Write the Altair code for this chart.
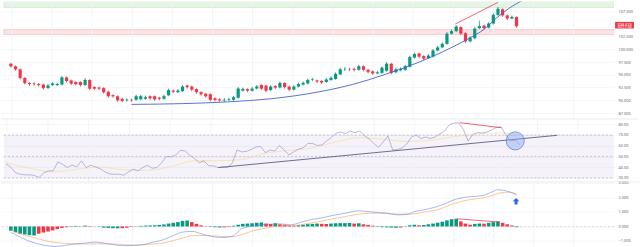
import altair as alt
import pandas as pd

# ---------------- data ----------------
opens = [97.2, 96.7, 96.1, 94.4, 93.4, 93.3, 93.2, 93.1, 92.4, 93.0,
         93.0, 93.1, 94.5, 93.9, 93.6, 93.6, 93.0, 94.0, 92.6, 92.5,
         92.4, 91.7, 91.0, 90.8, 90.3, 90.0, 90.1, 90.1, 90.2, 90.3,
         90.8, 90.8, 90.5, 90.3, 91.0, 91.9, 91.6, 91.8, 92.9, 92.7,
         92.2, 91.6, 91.3, 91.2, 90.4, 90.2, 90.0, 90.1, 90.1, 90.5,
         91.9, 92.2, 91.9, 92.3, 93.0, 92.9, 92.0, 92.8, 92.5, 93.4,
         92.7, 92.1, 92.7, 93.1, 93.3, 94.0, 93.9, 93.8, 93.6, 94.0,
         94.2, 95.1, 96.1, 96.1, 96.2, 96.0, 96.7, 96.0, 95.7, 95.3,
         95.4, 95.8, 97.2, 95.5, 95.9, 96.0, 96.6, 98.4, 99.2, 98.7,
         98.3, 98.6, 99.8, 100.4, 101.1, 103.1, 103.6, 104.4, 103.2, 101.6,
         102.2, 104.2, 104.7, 104.3, 105.1, 106.8, 107.9, 106.7, 106.1, 106.4]
closes = [96.7, 96.1, 94.4, 93.4, 93.2, 93.2, 93.0, 92.4, 92.9, 93.3,
          93.2, 94.5, 93.8, 93.3, 93.2, 93.0, 94.0, 92.3, 92.3, 92.3,
          91.6, 90.8, 90.8, 90.0, 89.9, 90.1, 90.0, 90.8, 90.8, 90.6,
          90.4, 90.2, 90.3, 90.8, 92.0, 91.7, 91.9, 92.7, 92.6, 92.1,
          91.6, 91.2, 90.8, 90.1, 90.1, 90.0, 90.1, 90.2, 90.6, 92.3,
          92.2, 91.9, 92.3, 92.7, 92.3, 91.9, 92.7, 92.5, 93.4, 92.6,
          92.1, 92.7, 93.2, 93.4, 94.0, 94.1, 93.7, 93.5, 94.1, 94.4,
          95.2, 96.1, 96.15, 96.05, 96.0, 96.7, 96.0, 95.6, 95.3, 95.5,
          96.4, 97.2, 95.4, 96.1, 96.2, 96.7, 98.5, 99.1, 98.6, 98.2,
          98.8, 99.8, 100.4, 101.1, 103.1, 103.6, 104.5, 103.1, 101.6, 102.3,
          104.1, 104.6, 104.2, 105.1, 106.8, 108.0, 106.7, 106.1, 106.4, 104.575]
highs = [97.4, 96.9, 96.3, 94.6, 93.6, 93.5, 93.4, 93.3, 93.1, 93.5,
         93.4, 94.7, 94.7, 94.1, 93.8, 93.8, 94.3, 94.2, 92.8, 92.7,
         92.6, 91.9, 91.2, 91.0, 90.5, 90.3, 90.3, 91.0, 91.0, 90.9,
         91.0, 91.0, 90.7, 91.0, 92.2, 92.1, 92.1, 92.9, 93.1, 92.9,
         92.4, 91.8, 91.5, 91.4, 90.6, 90.4, 90.4, 90.4, 90.8, 92.5,
         92.4, 92.4, 92.5, 92.9, 93.2, 93.1, 92.9, 93.0, 93.6, 93.6,
         92.9, 92.9, 93.4, 93.6, 94.2, 94.3, 94.1, 94.0, 94.3, 94.6,
         95.4, 96.3, 96.5, 96.4, 96.4, 96.9, 96.9, 96.2, 95.9, 95.7,
         96.6, 97.4, 97.4, 96.3, 96.4, 96.9, 98.7, 99.3, 99.4, 98.9,
         99.0, 100.0, 100.6, 101.3, 103.3, 103.8, 104.7, 104.6, 103.4, 102.5,
         104.3, 105.7, 104.9, 105.3, 107.0, 108.3, 108.1, 106.9, 106.6, 106.5]
lows = [96.5, 95.9, 94.2, 93.2, 92.9, 93.0, 92.8, 92.2, 92.2, 92.8,
        92.8, 92.9, 93.6, 93.1, 93.0, 92.8, 92.8, 92.1, 92.1, 92.1,
        91.4, 90.6, 90.6, 89.8, 89.7, 89.8, 89.8, 89.9, 90.0, 90.1,
        90.2, 90.0, 90.1, 90.1, 90.8, 91.5, 91.4, 91.6, 92.4, 91.9,
        91.4, 91.0, 90.6, 89.9, 89.9, 89.8, 89.7, 89.9, 89.9, 90.3,
        91.7, 91.7, 91.7, 92.1, 92.1, 91.7, 91.8, 92.3, 92.3, 92.4,
        91.9, 91.9, 92.5, 92.9, 93.1, 93.8, 93.5, 93.3, 93.4, 93.8,
        94.0, 94.9, 95.8, 95.8, 95.8, 95.8, 95.8, 95.4, 95.1, 95.1,
        95.2, 95.6, 95.2, 95.3, 95.7, 95.8, 96.4, 98.2, 98.4, 98.0,
        98.1, 98.4, 99.6, 100.2, 100.9, 102.9, 103.4, 102.9, 101.3, 101.4,
        102.0, 104.0, 104.0, 104.1, 104.9, 106.6, 106.5, 105.9, 105.9, 104.4]

rsi = [43, 40, 35, 33.4, 32.8, 32.8, 32.3, 30.3, 34.6, 36.5,
       36.5, 44.9, 42.7, 39.6, 42, 40.2, 45.8, 39.6, 41.8, 40.2,
       38.4, 35.6, 33.7, 33.3, 33.4, 32.5, 35.6, 38.1, 36.5, 39.6,
       41.8, 39, 39.6, 44, 50, 49.5, 51.4, 55.6, 55.1, 51,
       48.1, 44, 45.8, 41.2, 41.2, 39.6, 40.2, 39.6, 44, 56,
       54.2, 54.7, 56.5, 58.8, 59.3, 53.5, 56, 55.1, 60.2, 56,
       51.4, 54.2, 56.7, 57.9, 62.1, 62.1, 60.2, 60.7, 64.4, 67.7,
       71.6, 72.8, 71.4, 73.7, 72.1, 73.7, 69.5, 66.3, 62.1, 58.4,
       63.5, 69.1, 56, 56.5, 57.9, 61.6, 68.1, 70, 66.7, 68.1,
       66.7, 68.1, 70.9, 73.7, 79.3, 81.2, 81.2, 75.1, 64.4, 70.5,
       72.3, 71.9, 72.8, 74.7, 77, 77.7, 70, 64.4, 65.3, 60.7]
rsi_ma_idx = [0, 5, 10, 15, 20, 25, 30, 35, 40, 45, 50, 55, 60, 65, 70, 75, 80, 85, 90, 95, 100, 105, 109]
rsi_ma = [44, 39, 35.5, 38, 40, 37.5, 37, 40.5, 46, 46, 47, 53, 55.5, 58, 63.5, 67.5, 66, 64, 65, 68.5, 71, 72, 70]

hist = [-0.3, -0.4, -0.5, -0.55, -0.6, -0.62, -0.5, -0.42, -0.35, -0.27,
        -0.18, -0.1, -0.05, 0.03, 0.04, 0.02, 0.06, 0.03, 0.01, -0.02,
        -0.08, -0.1, -0.12, -0.13, -0.12, -0.08, -0.03, 0.02, 0.04, 0.06,
        0.07, 0.08, 0.1, 0.14, 0.2, 0.25, 0.3, 0.38, 0.41, 0.3,
        0.18, 0.08, 0.02, -0.03, -0.05, -0.07, -0.06, -0.04, 0.05, 0.12,
        0.18, 0.2, 0.22, 0.25, 0.28, 0.2, 0.17, 0.22, 0.15, 0.12,
        0.07, 0.05, 0.08, 0.12, 0.16, 0.18, 0.2, 0.18, 0.17, 0.2,
        0.22, 0.23, 0.23, 0.24, 0.2, 0.22, 0.15, 0.1, 0.05, -0.03,
        -0.05, -0.06, -0.08, -0.09, -0.07, 0.02, 0.08, 0.12, 0.08, 0.1,
        0.15, 0.2, 0.26, 0.33, 0.42, 0.5, 0.53, 0.35, 0.2, 0.12,
        0.18, 0.2, 0.19, 0.25, 0.3, 0.35, 0.25, 0.15, 0.06, -0.05]
macd_idx = [0, 1, 3.2, 5.3, 7.4, 9.5, 11.6, 13.7, 15.9, 18, 20.1, 22.2, 24.3, 26.4, 28.5,
            30.7, 32.8, 34.9, 37, 39.1, 41.2, 43.3, 45.5, 47.6, 48.7, 49.7, 51.8, 53.9,
            56, 58.1, 60.3, 62.4, 64.5, 66.6, 69.4, 72.2, 75, 77.8, 80.7, 83.5, 85.6,
            87, 89.1, 91.2, 93.4, 95.5, 97.6, 99.7, 101.8, 103.9, 105, 106.7, 108.2, 109]
macd_vals = [-0.4, -0.57, -0.92, -1.15, -1.31, -1.38, -1.31, -1.21, -1.15, -1.08, -1.15,
             -1.26, -1.33, -1.31, -1.26, -1.08, -0.92, -0.64, -0.39, -0.34, -0.52, -0.69,
             -0.76, -0.69, -0.46, -0.16, 0.0, 0.11, 0.16, 0.18, 0.11, 0.28, 0.46, 0.57,
             0.76, 0.92, 1.08, 1.0, 0.92, 0.8, 0.85, 1.03, 1.15, 1.31, 1.54, 1.84, 2.0,
             2.07, 2.14, 2.41, 2.53, 2.46, 2.3, 2.18]
signal_idx = [0, 1, 3.2, 5.3, 7.4, 9.5, 11.6, 13.7, 15.9, 18, 20.1, 22.2, 24.3, 26.4, 28.5,
              30.7, 32.8, 34.9, 37, 39.1, 41.2, 43.3, 45.5, 47.6, 49.7, 51.8, 53.9, 56,
              58.1, 60.3, 62.4, 64.5, 66.6, 69.4, 72.2, 75, 77.8, 80.7, 83.5, 86.3, 89.1,
              92, 94.8, 97.6, 100.4, 103.2, 105.3, 107.4, 109]
signal_vals = [-0.2, -0.39, -0.62, -0.8, -0.98, -1.1, -1.17, -1.2, -1.21, -1.2, -1.2,
               -1.21, -1.26, -1.28, -1.26, -1.21, -1.15, -0.98, -0.8, -0.64, -0.62, -0.64,
               -0.69, -0.71, -0.57, -0.34, -0.18, -0.05, 0.05, 0.07, 0.11, 0.23, 0.34,
               0.53, 0.69, 0.85, 0.92, 0.92, 0.85, 0.85, 1.0, 1.15, 1.5, 1.77, 1.91, 2.07,
               2.3, 2.37, 2.23]

curve_idx = [26, 37, 46.9, 56, 66.6, 73.6, 80.7, 87.7, 94.8, 99, 101.9, 104.7, 107.4, 110.6]
curve_px = [89.2, 89.35, 89.7, 90.3, 91.7, 93.1, 95.1, 97.4, 100.3, 102.3, 103.9, 106.2, 108.1, 109.8]
price_red_idx = [95.8, 105]
price_red_px = [105.0, 109.26]
rsi_trend_idx = [45, 116.9]
rsi_trend_val = [39.6, 69.7]
rsi_red_idx = [96.2, 105]
rsi_red_val = [81.5, 76.8]
macd_red_idx = [96.2, 105.4]
macd_red_val = [0.53, 0.30]
circle_idx = [108]
circle_val = [64.5]
arrow_idx = [108.9]
arrow_val = [1.74]
grid_idx = [0.2, 8.9, 17.5, 26.2, 34.8, 43.5, 52.1, 60.8, 69.4, 78.1, 86.7, 95.4, 104.0, 112.7, 121.3]
green_zone = [108.25, 110.5]
red_zone = [102.93, 103.91]
last_price = 104.575
last_label = "104.575"
countdown = "02:11:36"

price_ticks = [87.5, 90.0, 92.5, 95.0, 97.5, 100.0, 102.5, 107.5]
rsi_ticks = [30, 40, 50, 60, 70, 80]
rsi_levels = [30, 50, 70]
macd_ticks = [-1, 0, 1, 2, 3]

# ---------------- tables ----------------
n = len(opens)
cdf = pd.DataFrame({"i": list(range(n)), "o": opens, "c": closes, "h": highs, "l": lows})
cdf["dir"] = ["up" if c >= o else "down" for o, c in zip(opens, closes)]

hcat = []
for k, h in enumerate(hist):
    prev = hist[k - 1] if k > 0 else 0
    if h >= 0:
        hcat.append("ps" if h >= prev else "pw")
    else:
        hcat.append("ns" if h <= prev else "nw")
hdf = pd.DataFrame({"i": list(range(n)), "h": hist, "z": [0] * n, "cat": hcat})
rdf = pd.DataFrame({"i": list(range(n)), "v": rsi})

W = 615
XDOM = [-1.057, 128.96]
UP, DOWN = "#089981", "#f23645"
GRIDC = "#f0f2f7"
LABC = "#6a6d78"


def X(field="i"):
    return alt.X(f"{field}:Q", scale=alt.Scale(domain=XDOM, nice=False, zero=False), axis=None)


def yenc(field, dom, ticks, fmt):
    return alt.Y(f"{field}:Q", scale=alt.Scale(domain=dom, nice=False, zero=False),
                 axis=alt.Axis(orient="right", values=ticks, format=fmt, title=None,
                               grid=True, gridColor=GRIDC, gridWidth=0.7, domain=False,
                               ticks=False, labelFontSize=4, labelColor=LABC,
                               labelPadding=4, labelFont="Roboto"))


def vgrid():
    return alt.Chart(pd.DataFrame({"g": grid_idx})).mark_rule(color=GRIDC, strokeWidth=0.8).encode(x=X("g"))


# ---------------- price pane ----------------
PDOM = [86.32, 109.46]
zones = pd.DataFrame({"a": [green_zone[0], red_zone[0]], "b": [green_zone[1], red_zone[1]],
                      "k": ["g", "r"]})
zone_layer = alt.Chart(zones).mark_rect(clip=True, strokeWidth=0.7).encode(
    x=alt.value(3), x2=alt.value(W),
    y=yenc("a", PDOM, price_ticks, ".3f"), y2="b:Q",
    fill=alt.Fill("k:N", scale=alt.Scale(domain=["g", "r"], range=["#e6f4e6", "#fce3e6"]), legend=None),
    stroke=alt.Stroke("k:N", scale=alt.Scale(domain=["g", "r"], range=["#c9e5c9", "#f5bcc3"]), legend=None),
)
dir_scale = alt.Scale(domain=["up", "down"], range=[UP, DOWN])
wicks = alt.Chart(cdf).mark_rule(strokeWidth=0.7).encode(
    x=X(), y=yenc("l", PDOM, price_ticks, ".3f"), y2="h:Q",
    color=alt.Color("dir:N", scale=dir_scale, legend=None))
bodies = alt.Chart(cdf).mark_bar(size=3.2).encode(
    x=X(), y=yenc("o", PDOM, price_ticks, ".3f"), y2="c:Q",
    color=alt.Color("dir:N", scale=dir_scale, legend=None))
closes_tick = alt.Chart(cdf).mark_tick(size=3.2, thickness=0.8).encode(
    x=X(), y=yenc("c", PDOM, price_ticks, ".3f"),
    color=alt.Color("dir:N", scale=dir_scale, legend=None))
curve = alt.Chart(pd.DataFrame({"i": curve_idx, "p": curve_px})).mark_line(
    color="#4262cf", strokeWidth=0.9, interpolate="monotone", clip=True).encode(
    x=X(), y=yenc("p", PDOM, price_ticks, ".3f"))
pred = alt.Chart(pd.DataFrame({"i": price_red_idx, "p": price_red_px})).mark_line(
    color="#e5404f", strokeWidth=0.8, clip=True).encode(
    x=X(), y=yenc("p", PDOM, price_ticks, ".3f"))
lab = pd.DataFrame({"a": [last_price + 0.85], "b": [last_price - 0.45],
                    "t1": [last_price + 0.33], "t2": [last_price - 0.18],
                    "s1": [last_label], "s2": [countdown]})
lab_box = alt.Chart(lab).mark_rect(color=DOWN, clip=False).encode(
    x=alt.value(W + 1), x2=alt.value(W + 20), y=yenc("a", PDOM, price_ticks, ".3f"), y2="b:Q")
lab_t1 = alt.Chart(lab).mark_text(color="white", fontSize=4, font="Roboto", align="center",
                                  baseline="middle", clip=False).encode(
    x=alt.value(W + 10.5), y=yenc("t1", PDOM, price_ticks, ".3f"), text="s1:N")
lab_t2 = alt.Chart(lab).mark_text(color="white", fontSize=3.6, font="Roboto", align="center",
                                  baseline="middle", clip=False).encode(
    x=alt.value(W + 10.5), y=yenc("t2", PDOM, price_ticks, ".3f"), text="s2:N")
price = alt.layer(zone_layer, vgrid(), wicks, bodies, closes_tick, curve, pred,
                  lab_box, lab_t1, lab_t2).properties(width=W, height=118)

# ---------------- RSI pane ----------------
RDOM = [26.3, 84.9]
sep = alt.Chart(pd.DataFrame({"s": [0]})).mark_rule(color="#e6e8ee", strokeWidth=0.8).encode(
    y=alt.value(0), x=alt.value(0), x2=alt.value(W + 25))
rband = alt.Chart(pd.DataFrame({"a": [30], "b": [70]})).mark_rect(color="#7e57c2", opacity=0.08).encode(
    x=alt.value(3), x2=alt.value(W), y=yenc("a", RDOM, rsi_ticks, ".2f"), y2="b:Q")
rlev = alt.Chart(pd.DataFrame({"v": rsi_levels})).mark_rule(
    color="#a3a6b0", strokeWidth=0.6, strokeDash=[2, 2]).encode(
    x=alt.value(3), x2=alt.value(W), y=yenc("v", RDOM, rsi_ticks, ".2f"))
rline = alt.Chart(rdf).mark_line(color="#9a8fce", strokeWidth=0.65).encode(
    x=X(), y=yenc("v", RDOM, rsi_ticks, ".2f"))
rma = alt.Chart(pd.DataFrame({"i": rsi_ma_idx, "v": rsi_ma})).mark_line(
    color="#f7dca0", strokeWidth=0.7, interpolate="monotone").encode(
    x=X(), y=yenc("v", RDOM, rsi_ticks, ".2f"))
rtrend = alt.Chart(pd.DataFrame({"i": rsi_trend_idx, "v": rsi_trend_val})).mark_line(
    color="#5c6080", strokeWidth=0.9).encode(x=X(), y=yenc("v", RDOM, rsi_ticks, ".2f"))
rred = alt.Chart(pd.DataFrame({"i": rsi_red_idx, "v": rsi_red_val})).mark_line(
    color="#e5404f", strokeWidth=0.8).encode(x=X(), y=yenc("v", RDOM, rsi_ticks, ".2f"))
rcirc = alt.Chart(pd.DataFrame({"i": circle_idx, "v": circle_val})).mark_point(
    shape="circle", size=330, filled=True, fill="#8aa6f0", fillOpacity=0.45,
    stroke="#4a6fe0", strokeWidth=0.8, strokeOpacity=0.8, opacity=1).encode(
    x=X(), y=yenc("v", RDOM, rsi_ticks, ".2f"))
rsi_chart = alt.layer(rband, vgrid(), rlev, rma, rline, rtrend, rred, rcirc, sep).properties(
    width=W, height=63)

# ---------------- MACD pane ----------------
MDOM = [-1.39, 3.08]
hbars = alt.Chart(hdf).mark_bar(size=3.6).encode(
    x=X(), y=yenc("h", MDOM, macd_ticks, ".3f"), y2="z:Q",
    color=alt.Color("cat:N", scale=alt.Scale(domain=["ps", "pw", "ns", "nw"],
                                             range=["#26a69a", "#b2dfdb", "#ff5252", "#ffcdd2"]),
                    legend=None))
zero = alt.Chart(pd.DataFrame({"v": [0]})).mark_rule(
    color="#b8bbc4", strokeWidth=0.5, strokeDash=[2, 2]).encode(
    y=yenc("v", MDOM, macd_ticks, ".3f"))
mline = alt.Chart(pd.DataFrame({"i": macd_idx, "v": macd_vals})).mark_line(
    color="#5a80f0", strokeWidth=0.55, interpolate="monotone").encode(
    x=X(), y=yenc("v", MDOM, macd_ticks, ".3f"))
sline = alt.Chart(pd.DataFrame({"i": signal_idx, "v": signal_vals})).mark_line(
    color="#ff9640", strokeWidth=0.55, interpolate="monotone").encode(
    x=X(), y=yenc("v", MDOM, macd_ticks, ".3f"))
mred = alt.Chart(pd.DataFrame({"i": macd_red_idx, "v": macd_red_val})).mark_line(
    color="#e5404f", strokeWidth=0.8).encode(x=X(), y=yenc("v", MDOM, macd_ticks, ".3f"))
arrow = alt.Chart(pd.DataFrame({"i": arrow_idx, "v": arrow_val})).mark_point(
    shape="M0,-1L1,0L0.45,0L0.45,1L-0.45,1L-0.45,0L-1,0Z", size=42, filled=True,
    color="#2962ff", opacity=1).encode(x=X(), y=yenc("v", MDOM, macd_ticks, ".3f"))
macd_chart = alt.layer(vgrid(), zero, hbars, sline, mline, mred, arrow, sep).properties(
    width=W, height=65)

chart = alt.vconcat(price, rsi_chart, macd_chart, spacing=0, bounds="flush").properties(
    padding=0, background="white"
).configure_view(stroke=None).configure_axis(labelFont="Roboto")

chart.save("out.html", embed_options={"renderer": "svg", "actions": False})
